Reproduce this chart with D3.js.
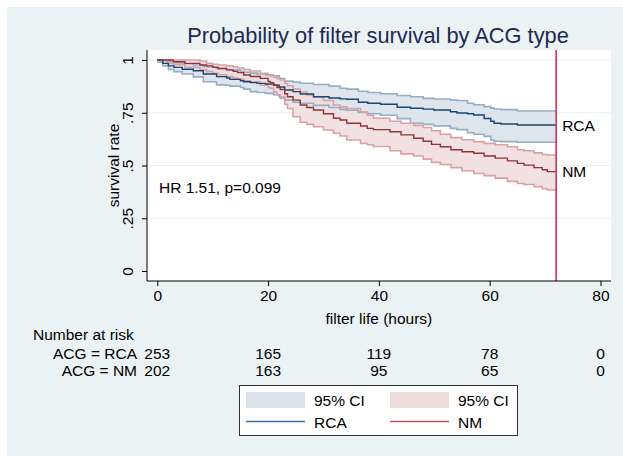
<!DOCTYPE html>
<html><head><meta charset="utf-8">
<script src="https://cdn.jsdelivr.net/npm/d3@7"></script>
<style>
html,body{margin:0;padding:0;background:#fff;}
svg{display:block;font-family:"Liberation Sans",Arial,Helvetica,sans-serif;}
</style></head>
<body>
<script>
// ---- data ----
const title = "Probability of filter survival by ACG type";
const xTicks = [0, 20, 40, 60, 80];
const yTicks = [0, 0.25, 0.5, 0.75, 1];
const yTickLabels = ["0", ".25", ".5", ".75", "1"];
const groups = ["RCA", "NM"];

const rcaTime = [0,1,2,3,4.5,6.5,8.3,10.7,12.5,13.1,15,15.6,16.8,18,19.5,21,22,23,24.5,25.8,28.2,31,33,34.2,36.3,38,40.3,43.3,45.7,48,49.9,52.9,54.1,56,57.1,59,60.2,60.8,62,65,72];
const rcaSurv = [1,.984,.972,.965,.956,.949,.934,.921,.915,.908,.902,.897,.893,.889,.886,.880,.872,.858,.850,.839,.826,.820,.816,.814,.800,.795,.790,.776,.771,.767,.763,.755,.749,.745,.739,.723,.710,.700,.697,.692,.692];
const rcaHi = [1,.998,.993,.987,.982,.976,.968,.960,.955,.952,.945,.942,.938,.934,.930,.925,.912,.900,.895,.890,.884,.876,.866,.862,.852,.846,.840,.832,.826,.818,.815,.810,.808,.795,.788,.779,.772,.768,.765,.758,.758];
const rcaLo = [.99,.972,.955,.945,.934,.920,.897,.882,.880,.876,.870,.862,.850,.846,.842,.835,.825,.81,.80,.795,.785,.775,.766,.762,.752,.745,.738,.722,.70,.695,.688,.676,.670,.655,.648,.638,.621,.615,.613,.610,.610];

const nmTime = [0,1.7,2.9,5,7.7,8.9,10,11,12.5,13.7,14.5,15.6,16.8,18.6,20,20.4,21,21.6,22.2,23,23.5,24.5,25.8,27,28.2,30,31.8,33,34.2,36.7,37.9,39,42,44,46.3,48,49.5,51.1,53,55,57.1,59,61,63.2,65,66.2,68,69.5,70.4,72];
const nmSurv = [1,1,.992,.984,.976,.972,.965,.960,.953,.946,.940,.929,.922,.913,.898,.893,.882,.870,.860,.840,.826,.810,.787,.775,.763,.745,.724,.716,.700,.687,.676,.670,.660,.645,.629,.615,.600,.589,.575,.565,.558,.545,.535,.522,.510,.502,.490,.480,.471,.471];
const nmHi = [1,1,1,1,.995,.984,.980,.976,.972,.968,.962,.955,.948,.937,.928,.925,.918,.913,.905,.89,.878,.862,.848,.834,.825,.808,.787,.778,.770,.755,.738,.724,.710,.700,.690,.680,.665,.648,.632,.622,.613,.605,.598,.589,.575,.570,.56,.552,.55,.55];
const nmLo = [1,.984,.978,.965,.953,.945,.937,.930,.921,.914,.910,.902,.897,.88,.87,.866,.848,.835,.818,.79,.77,.731,.705,.695,.684,.668,.653,.640,.621,.605,.598,.590,.570,.555,.545,.530,.515,.505,.49,.475,.462,.452,.440,.425,.415,.41,.40,.39,.384,.384];

const riskTimes = [0, 20, 40, 60, 80];
const riskRCA = [253, 165, 119, 78, 0];
const riskNM = [202, 163, 95, 65, 0];
const refLine = 72;
const hrText = "HR 1.51, p=0.099";

// ---- drawing ----
const W = 623, H = 456;
const FS = 15.5;
const svg = d3.select("body").append("svg").attr("width", W).attr("height", H);

svg.append("rect").attr("x", 7).attr("y", 7).attr("width", W - 7).attr("height", H - 7).attr("fill", "#eaf2f3");

const plot = {l: 147, r: 611, t: 50, b: 281};
const x = d3.scaleLinear().domain([-1.86, 81.9]).range([plot.l, plot.r]);
const y = d3.scaleLinear().domain([-0.0474, 1.0474]).range([plot.b, plot.t]);

svg.append("rect").attr("x", plot.l).attr("y", plot.t).attr("width", plot.r - plot.l).attr("height", plot.b - plot.t).attr("fill", "#fff");

// gridlines
svg.append("g").selectAll("line").data(yTicks.filter(d => d > 0)).join("line")
  .attr("x1", plot.l).attr("x2", plot.r).attr("y1", d => y(d)).attr("y2", d => y(d))
  .attr("stroke", "#eaf2f3").attr("stroke-width", 1.2);

const colors = {
  RCA: {line: "#1a476f", band: "#dbe2ea", edge: "#94aec6"},
  NM: {line: "#90353b", band: "#eedcdd", edge: "#d8a2a6"}
};
const series = {
  RCA: rcaTime.map((t, i) => ({t, s: rcaSurv[i], lo: rcaLo[i], hi: rcaHi[i]})),
  NM: nmTime.map((t, i) => ({t, s: nmSurv[i], lo: nmLo[i], hi: nmHi[i]}))
};

const area = d3.area().curve(d3.curveStepAfter).x(d => x(d.t)).y0(d => y(d.lo)).y1(d => y(d.hi));
const lineOf = key => d3.line().curve(d3.curveStepAfter).x(d => x(d.t)).y(d => y(d[key]));

const gBands = svg.append("g");
groups.forEach(g => {
  gBands.append("path").datum(series[g]).attr("d", area).attr("fill", colors[g].band).attr("fill-opacity", g === "NM" ? 0.85 : 0.9);
});
groups.forEach(g => {
  ["lo", "hi"].forEach(k => {
    gBands.append("path").datum(series[g]).attr("d", lineOf(k)).attr("fill", "none")
      .attr("stroke", colors[g].edge).attr("stroke-width", 1.6);
  });
});
groups.forEach(g => {
  svg.append("path").datum(series[g]).attr("d", lineOf("s")).attr("fill", "none")
    .attr("stroke", colors[g].line).attr("stroke-width", 1.4);
});

// reference line
svg.append("line").attr("x1", x(refLine)).attr("x2", x(refLine)).attr("y1", plot.t).attr("y2", plot.b)
  .attr("stroke", "#d62250").attr("stroke-width", 1.5);

// end labels
groups.forEach(g => {
  const last = series[g][series[g].length - 1];
  svg.append("text").attr("x", x(refLine) + 6).attr("y", y(last.s)).attr("dy", "0.36em")
    .attr("font-size", FS).attr("fill", "#000").text(g);
});

svg.append("text").attr("x", 159).attr("y", 187).attr("dy", "0.36em").attr("font-size", FS).text(hrText);

// axes
const yAxis = d3.axisLeft(y).tickValues(yTicks).tickFormat((d, i) => yTickLabels[i]).tickSize(5).tickPadding(4);
const gy = svg.append("g").attr("transform", `translate(${plot.l},0)`).call(yAxis);
gy.select(".domain").attr("d", `M0,${plot.t}V${plot.b}`).attr("stroke", "#000");
gy.selectAll(".tick line").attr("stroke", "#000");
gy.selectAll(".tick text").attr("font-size", FS).attr("font-family", null).attr("fill", "#000")
  .attr("text-anchor", "middle").attr("dy", null).attr("x", null)
  .attr("transform", "translate(-14,0) rotate(-90)");

const xAxis = d3.axisBottom(x).tickValues(xTicks).tickSize(5).tickPadding(4);
const gx = svg.append("g").attr("transform", `translate(0,${plot.b})`).call(xAxis);
gx.select(".domain").attr("d", `M${plot.l},0H${plot.r}`).attr("stroke", "#000");
gx.selectAll(".tick line").attr("stroke", "#000");
gx.selectAll(".tick text").attr("font-size", FS).attr("font-family", null).attr("fill", "#000");

svg.append("text").attr("transform", `translate(113,${(plot.t + plot.b) / 2}) rotate(-90)`)
  .attr("text-anchor", "middle").attr("dy", "0.36em").attr("font-size", FS).text("survival rate");
svg.append("text").attr("x", x(40)).attr("y", 318).attr("dy", "0.36em").attr("text-anchor", "middle")
  .attr("font-size", FS).text("filter life (hours)");

// title
svg.append("text").attr("x", 378).attr("y", 43).attr("text-anchor", "middle").attr("font-size", 21.8)
  .attr("fill", "#1e2a52").text(title);

// number at risk
svg.append("text").attr("x", 33).attr("y", 334).attr("dy", "0.36em").attr("font-size", FS).text("Number at risk");
const rows = [{label: "ACG = RCA", vals: riskRCA, yy: 353}, {label: "ACG = NM", vals: riskNM, yy: 370}];
rows.forEach(r => {
  svg.append("text").attr("x", 137).attr("y", r.yy).attr("dy", "0.36em").attr("text-anchor", "end").attr("font-size", FS).text(r.label);
  svg.append("g").selectAll("text").data(r.vals).join("text")
    .attr("x", (d, i) => x(riskTimes[i])).attr("y", r.yy).attr("dy", "0.36em").attr("text-anchor", "middle")
    .attr("font-size", FS).text(d => d);
});

// legend
const lg = svg.append("g");
lg.append("rect").attr("x", 239.5).attr("y", 385.5).attr("width", 278).attr("height", 50).attr("fill", "#fff").attr("stroke", "#333").attr("stroke-width", 1);
const legItems = [
  {g: "RCA", x0: 246},
  {g: "NM", x0: 390}
];
legItems.forEach(it => {
  lg.append("rect").attr("x", it.x0).attr("y", 392).attr("width", 59).attr("height", 16).attr("fill", colors[it.g].band);
  lg.append("text").attr("x", it.x0 + 68).attr("y", 400.5).attr("dy", "0.36em").attr("font-size", FS).text("95% CI");
  lg.append("line").attr("x1", it.x0).attr("x2", it.x0 + 59).attr("y1", 421.5).attr("y2", 421.5)
    .attr("stroke", it.g === "RCA" ? "#3f6f98" : "#b9555c").attr("stroke-width", 1.3);
  lg.append("text").attr("x", it.x0 + 68).attr("y", 422.5).attr("dy", "0.36em").attr("font-size", FS).text(it.g);
});
</script>
</body></html>
